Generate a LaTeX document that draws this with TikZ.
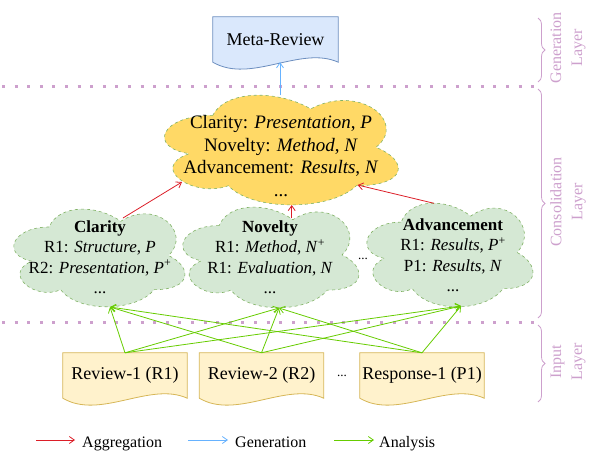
\documentclass[tikz,border=0pt]{standalone}
\usepackage{fontspec}
\setmainfont{Liberation Serif}
\usetikzlibrary{arrows.meta,calc,decorations.pathreplacing,backgrounds}
\definecolor{docfill}{HTML}{FFF2CC}
\definecolor{docdraw}{HTML}{D6B656}
\definecolor{metafill}{HTML}{DAE8FC}
\definecolor{metadraw}{HTML}{6C8EBF}
\definecolor{gfill}{HTML}{D5E8D4}
\definecolor{gdraw}{HTML}{82B366}
\definecolor{yfill}{HTML}{FFD966}
\definecolor{layercol}{RGB}{205,160,205}
\definecolor{aggcol}{RGB}{220,30,40}
\definecolor{gencol}{RGB}{102,178,255}
\definecolor{anacol}{RGB}{102,204,0}
\newcommand\docshape[3]{%
  \path[fill=#2,draw=#3,line width=0.8pt] let \p1=(#1.south west), \p2=(#1.north east), \n1={\x2-\x1} in
  (\x1,\y2) -- (\x2,\y2) -- (\x2,\y1) .. controls ({\x2-0.3*\n1},{\y1+17pt}) and ({\x1+0.3*\n1},{\y1-22pt}) .. (\x1,\y1) -- cycle;}
% cloud outline inside the box of node #1 (width #2, height #3), fill #4
\newcommand\cloudshape[4]{%
  \begin{scope}[shift={(#1.north west)}, x=#2pt, y=-#3pt]
  \path[fill=#4, draw=gdraw, dashed, line width=0.6pt]
    (0.25,0.25) .. controls (0.05,0.25) and (0,0.5) .. (0.16,0.55)
    .. controls (0,0.66) and (0.18,0.9) .. (0.31,0.8)
    .. controls (0.4,1) and (0.7,1) .. (0.8,0.8)
    .. controls (1,0.8) and (1,0.6) .. (0.875,0.5)
    .. controls (1,0.3) and (0.81,0) .. (0.625,0.2)
    .. controls (0.5,0.05) and (0.3,0.05) .. (0.25,0.25) -- cycle;
  \end{scope}}
\tikzset{
  docnode/.style={rectangle, minimum width=124, minimum height=45, inner sep=0, font=\fontsize{18}{22}\selectfont},
  cloudbox/.style={rectangle, inner sep=0},
  gtext/.style={align=center, inner sep=0, font=\fontsize{17}{20.5}\selectfont},
  ytext/.style={align=center, inner sep=0, font=\fontsize{19}{22.7}\selectfont},
  arr/.style={-{Straight Barb[length=5pt,width=7pt]}, line width=0.8pt},
  aggarr/.style={arr, draw=aggcol},
  genarr/.style={arr, draw=gencol},
  anaarr/.style={arr, draw=anacol},
  dotline/.style={draw=layercol, line width=3pt, dash pattern=on 3pt off 9.6pt},
  layerbrace/.style={draw=layercol, line width=0.8pt, decorate, decoration={brace, amplitude=7pt}},
  layertext/.style={rotate=90, align=center, text=layercol, inner sep=0, font=\fontsize{16}{21}\selectfont},
  legtext/.style={anchor=base west, inner sep=0, font=\fontsize{16}{19}\selectfont},
}
\begin{document}
\begin{tikzpicture}[x=1pt,y=-1pt]
\useasboundingbox (0,0) rectangle (594,450);

% layer separators
\draw[dotline] (2,86) -- (542,86);
\draw[dotline] (2,322) -- (542,322);

% braces and layer labels
\draw[layerbrace] (538,18) -- (538,82);
\draw[layerbrace] (538,89) -- (538,318);
\draw[layerbrace] (538,325) -- (538,402);
\node[layertext] (lgen) at (568,48) {Generation\\Layer};
\node[layertext] (lcon) at (568,202) {Consolidation\\Layer};
\node[layertext] (linp) at (568,362) {Input\\Layer};

% documents
\node[docnode, minimum width=125] (meta) at (275.5,39.5) {Meta-Review};
\node[docnode] (r1) at (125,375.5) {Review-1 (R1)};
\node[docnode] (r2) at (261.5,375.5) {Review-2 (R2)};
\node[docnode] (p1) at (422,375.5) {Response-1 (P1)};
\node[inner sep=0, font=\fontsize{13}{15}\selectfont] (ddots) at (342,376) {...};
\begin{scope}[on background layer]
\docshape{meta}{metafill}{metadraw}
\docshape{r1}{docfill}{docdraw}
\docshape{r2}{docfill}{docdraw}
\docshape{p1}{docfill}{docdraw}
\end{scope}

% clouds
\node[cloudbox, minimum width=261, minimum height=128] (yc) at (278.2,147.5) {};
\cloudshape{yc}{261}{128}{yfill}
\node[ytext] (yt) at (281,156) {Clarity: \textit{Presentation}, \textit{P}\\Novelty: \textit{Method}, \textit{N}\\Advancement: \textit{Results}, \textit{N}\\...};

\node[cloudbox, minimum width=191, minimum height=114] (clc) at (97.1,255.7) {};
\cloudshape{clc}{191}{114}{gfill}
\node[gtext] (clt) at (100,257) {\textbf{Clarity}\\R1: \textit{Structure}, \textit{P}\\R2: \textit{Presentation}, \textit{P}\textsuperscript{+}\\...};

\node[cloudbox, minimum width=196.6, minimum height=117.4] (nvc) at (268.5,255.1) {};
\cloudshape{nvc}{196.6}{117.4}{gfill}
\node[gtext] (nvt) at (270,257) {\textbf{Novelty}\\R1: \textit{Method}, \textit{N}\textsuperscript{+}\\R1: \textit{Evaluation}, \textit{N}\\...};

\node[cloudbox, minimum width=185.4, minimum height=121] (adc) at (447.7,252.6) {};
\cloudshape{adc}{185.4}{121}{gfill}
\node[gtext] (adt) at (453,255) {\textbf{Advancement}\\R1: \textit{Results}, \textit{P}\textsuperscript{+}\\P1: \textit{Results}, \textit{N}\\...};

\node[inner sep=0, font=\fontsize{13}{15}\selectfont] (cdots) at (363,259) {...};

% aggregation arrows
\draw[aggarr] ($(clc.center)+(25.9,-37.7)$) -- ($(yc.center)+(-96.2,34.5)$);
\draw[aggarr] ($(nvc.center)+(23.2,-37.1)$) -- ($(yc.center)+(13.5,57.5)$);
\draw[aggarr] ($(adc.center)+(-13.7,-49.3)$) -- ($(yc.center)+(79.4,37.5)$);

% generation arrow
\draw[genarr] ($(yc.north)+(1.8,12)$) -- ($(meta.south)+(4.5,0)$);

% analysis arrows
\coordinate (clin) at ($(clc.center)+(12.9,51.3)$);
\coordinate (nvin) at ($(nvc.center)+(10.5,52.9)$);
\coordinate (adin) at ($(adc.center)+(13.3,53.4)$);
\foreach \s in {r1,r2,p1}{
  \foreach \t in {clin,nvin,adin}{
    \draw[anaarr] (\s.north) -- (\t);
  }
}

% legend
\node[legtext] (lagg) at (82,447) {Aggregation};
\node[legtext] (lgenr) at (235,447) {Generation};
\node[legtext] (lana) at (379,447) {Analysis};
\draw[aggarr] ($(lagg.base west)+(-46,-7)$) -- ($(lagg.base west)+(-7,-7)$);
\draw[genarr] ($(lgenr.base west)+(-47,-7)$) -- ($(lgenr.base west)+(-7,-7)$);
\draw[anaarr] ($(lana.base west)+(-45,-7)$) -- ($(lana.base west)+(-5,-7)$);
\end{tikzpicture}
\end{document}
